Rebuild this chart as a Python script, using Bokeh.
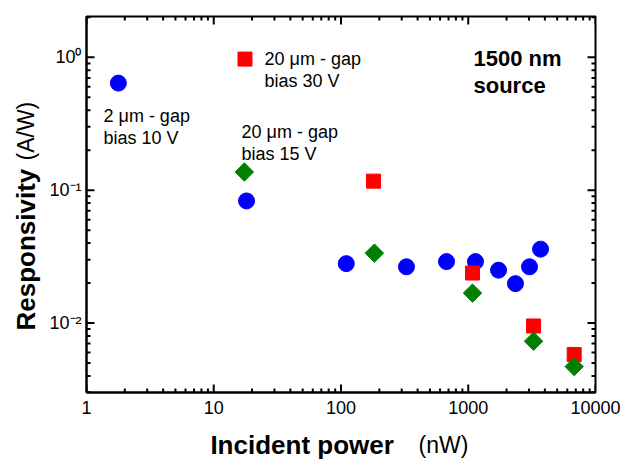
import numpy as np
from bokeh.plotting import figure
from bokeh.layouts import row, column
from bokeh.models import Range1d, FixedTicker, CustomJSTickFormatter, Label
from bokeh.core.properties import value
from bokeh.embed import file_html
from bokeh.resources import INLINE

# ---- data ----
power_2um_bias10 = [1.78, 18.1, 110, 327, 675, 1140, 1730, 2350, 3030, 3700]
resp_2um_bias10 = [0.64, 0.083, 0.028, 0.0265, 0.029, 0.029, 0.025, 0.0198, 0.0265, 0.036]

power_20um_bias30 = [17.6, 180, 1080, 3260, 6800]
resp_20um_bias30 = [0.97, 0.117, 0.0238, 0.0095, 0.0058]

power_20um_bias15 = [17.4, 183, 1080, 3260, 6800]
resp_20um_bias15 = [0.137, 0.0336, 0.0168, 0.0073, 0.0047]

x_major_ticks = [1, 10, 100, 1000, 10000]
y_major_ticks = [0.01, 0.1, 1]

x_title_bold, x_title_unit = "Incident power", "(nW)"
y_title_bold, y_title_unit = "Responsivity", "(A/W)"

FONT = "Liberation Sans"
X0, X1 = 1, 10000
Y0, Y1 = 0.003, 2.03
FW, FH = 509, 376
LEFT_W = 45          # strip holding the y title
MAIN_W, MAIN_H = 623 - LEFT_W, 424
BOTTOM_H = 459 - MAIN_H

p = figure(width=MAIN_W, height=MAIN_H, x_axis_type="log", y_axis_type="log",
           x_range=Range1d(X0, X1), y_range=Range1d(Y0, Y1),
           output_backend="svg", toolbar_location=None,
           min_border_left=86 - LEFT_W, min_border_right=28, min_border_top=16,
           min_border_bottom=MAIN_H - 16 - FH)
p.frame_width = FW
p.frame_height = FH
p.xgrid.visible = False
p.ygrid.visible = False
p.outline_line_color = "black"
p.outline_line_width = 2
p.background_fill_color = "white"
p.border_fill_color = "white"

x_minor = [m * 10 ** d for d in range(0, 4) for m in range(2, 10)]
y_minor = [m * 10.0 ** d for d in range(-3, 1) for m in range(2, 10)]
y_minor = [v for v in y_minor if Y0 <= v <= Y1] + [0.003]

xt = FixedTicker(ticks=x_major_ticks, minor_ticks=[])
yt = FixedTicker(ticks=y_major_ticks, minor_ticks=[])

x_fmt = CustomJSTickFormatter(code="return String(Math.round(tick));")
y_fmt = CustomJSTickFormatter(code="""
const e = Math.round(Math.log10(tick));
const m = {"0":"\u2070","1":"\u00b9","2":"\u00b2","3":"\u00b3","-":"\u207b"};
return "10" + String(e).split("").map(c => m[c]).join("");
""")

p.xaxis.ticker = xt
p.xaxis.formatter = x_fmt
p.yaxis.ticker = yt
p.yaxis.formatter = y_fmt
for ax in p.xaxis + p.yaxis:
    ax.axis_line_width = 2
    ax.axis_line_color = "black"
    ax.major_tick_in = 0
    ax.major_tick_out = 0
    ax.minor_tick_in = 0
    ax.minor_tick_out = 0
    ax.major_label_text_font = FONT
    ax.major_label_text_font_size = "18px"
    ax.major_label_text_color = "black"
p.xaxis.major_label_standoff = 8
p.yaxis.major_label_standoff = 5

# ---- inward ticks on all four sides (lengths in screen px converted to log units) ----
xdec = FW / np.log10(X1 / X0)
ydec = FH / np.log10(Y1 / Y0)


def ticks_x(vals, length):
    dy = 10 ** (length / ydec)
    xs = list(vals) * 2
    y0 = [Y0] * len(vals) + [Y1] * len(vals)
    y1 = [Y0 * dy] * len(vals) + [Y1 / dy] * len(vals)
    p.segment(xs, y0, xs, y1, line_color="black", line_width=2)


def ticks_y(vals, length):
    dx = 10 ** (length / xdec)
    ys = list(vals) * 2
    x0 = [X0] * len(vals) + [X1] * len(vals)
    x1 = [X0 * dx] * len(vals) + [X1 / dx] * len(vals)
    p.segment(x0, ys, x1, ys, line_color="black", line_width=2)


ticks_x(x_major_ticks, 8)
ticks_x(x_minor, 4)
ticks_y(y_major_ticks, 8)
ticks_y(y_minor, 4)

# ---- markers ----
p.scatter(power_2um_bias10, resp_2um_bias10, marker="circle", size=16,
          fill_color="#0000FF", line_color="#0000FF")
p.scatter(power_20um_bias30, resp_20um_bias30, marker="square", size=14,
          fill_color="#FF0000", line_color="#FF0000")
p.scatter(power_20um_bias15, resp_20um_bias15, marker="square", size=13, angle=np.pi / 4,
          fill_color="#008000", line_color="#008000")


def make_text(x, y, txt, size="18px", style="normal"):
    return Label(x=x, y=y, x_units="screen", y_units="screen", text=txt,
                 text_font=FONT, text_font_size=size, text_font_style=style,
                 text_color="black", text_baseline="middle", text_align="left")


# annotations (screen units relative to the plot frame)
for args in [(17, 277, "2 \u03bcm - gap"), (17, 255, "bias 10 V"),
             (155, 261, "20 \u03bcm - gap"), (155, 239, "bias 15 V"),
             (178, 334, "20 \u03bcm - gap"), (178, 312, "bias 30 V")]:
    p.add_layout(make_text(*args))
p.add_layout(make_text(387, 334, "1500 nm", size="22px", style="bold"))
p.add_layout(make_text(387, 307, "source", size="22px", style="bold"))


# ---- axis-title strips (pixel-like coordinates, origin bottom-left) ----
def strip(w, h):
    f = figure(width=w, height=h, x_range=Range1d(0, w), y_range=Range1d(0, h),
               output_backend="svg", toolbar_location=None,
               x_axis_location=None, y_axis_location=None,
               min_border=0, min_border_left=0, min_border_right=0,
               min_border_top=0, min_border_bottom=0)
    f.xgrid.visible = False
    f.ygrid.visible = False
    f.outline_line_color = None
    f.background_fill_color = "white"
    f.border_fill_color = "white"
    return f


left = strip(LEFT_W, 459)
left.text(x=[25], y=[459 - 330], text=[y_title_bold], angle=np.pi / 2,
          text_font=value(FONT), text_font_size="26px", text_font_style="bold",
          text_color="black", text_align="left", text_baseline="middle")
left.text(x=[25], y=[459 - 160], text=[y_title_unit], angle=np.pi / 2,
          text_font=value(FONT), text_font_size="23px", text_font_style="normal",
          text_color="black", text_align="left", text_baseline="middle")

bottom = strip(MAIN_W, BOTTOM_H)
bottom.text(x=[394 - LEFT_W], y=[459 - 444], text=[x_title_bold],
            text_font=value(FONT), text_font_size="26px", text_font_style="bold",
            text_color="black", text_align="right", text_baseline="middle")
bottom.text(x=[422 - LEFT_W], y=[459 - 444], text=[x_title_unit],
            text_font=value(FONT), text_font_size="23px", text_font_style="normal",
            text_color="black", text_align="left", text_baseline="middle")

layout = row(left, column(p, bottom, spacing=0), spacing=0)

open("out.html", "w", encoding="utf-8").write(file_html(layout, INLINE))
